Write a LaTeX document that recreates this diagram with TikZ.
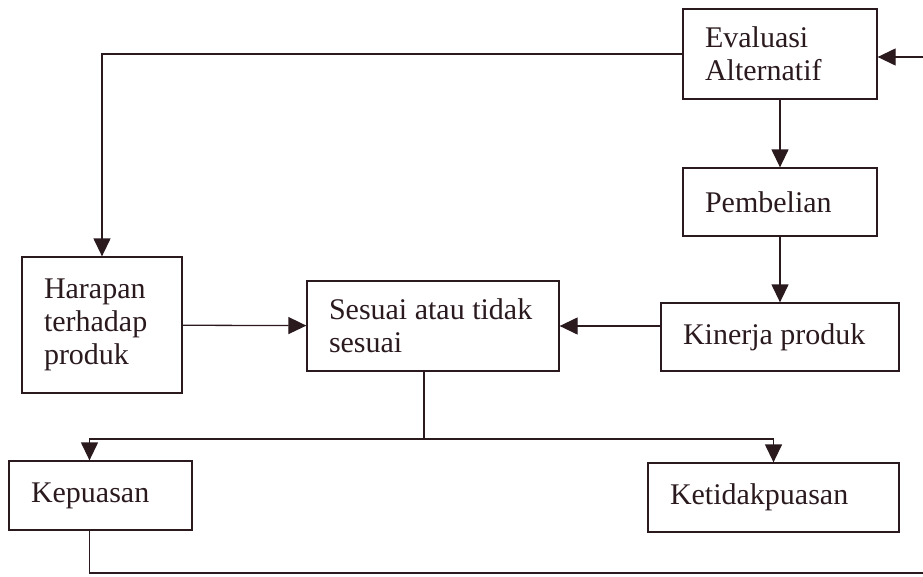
\documentclass[tikz,border=0pt]{standalone}
\usepackage{fontspec}
\setmainfont{Liberation Serif}
\usepackage{xcolor}
\usepackage{tikz}
\usetikzlibrary{arrows.meta,positioning,calc}
\definecolor{ink}{HTML}{2A1A1E}
\tikzset{
  box/.style={draw=ink, line width=1.3pt, text=ink, align=flush left,
              inner xsep=22pt, inner ysep=0pt, font=\fontsize{30}{33}\selectfont},
  flow/.style={-{Triangle[length=18pt,width=17pt]}, line width=1.3pt, draw=ink},
  link/.style={line width=1.3pt, draw=ink}
}
\begin{document}
\begin{tikzpicture}[x=1pt, y=-1pt]
  \useasboundingbox (0,0) rectangle (923,576);
  \node[box, text width=150pt, minimum height=90pt] (eval) at (780,54) {Evaluasi\\Alternatif};
  \node[box, text width=150pt, minimum height=68pt] (beli) at (780,202) {Pembelian};
  \node[box, text width=194pt, minimum height=68pt] (kinerja) at (780,337) {Kinerja produk};
  \node[box, text width=208pt, minimum height=90pt] (sesuai) at (433,326) {Sesuai atau tidak\\sesuai};
  \node[box, text width=116pt, minimum height=136pt] (harapan) at (102,325) {Harapan\\terhadap\\produk};
  \node[box, text width=139pt, minimum height=69pt] (puas) at (100.5,495.5) {Kepuasan};
  \node[box, text width=207pt, minimum height=69pt] (tidakpuas) at (773.5,497.5) {Ketidakpuasan};
  \coordinate (masuk) at (923,57);
  \coordinate (split) at (424,439);
  \coordinate (keluar) at (923,573);
  \draw[flow] (masuk) -- (eval.east |- masuk);
  \draw[flow] (eval.west) -| (harapan.north);
  \draw[flow] (eval) -- (beli);
  \draw[flow] (beli) -- (kinerja);
  \draw[flow] (kinerja.west |- sesuai) -- (sesuai);
  \draw[flow] (harapan) -- (sesuai);
  \draw[link] (sesuai.south -| split) -- (split);
  \draw[flow] (split) -| ([xshift=-11pt]puas.north);
  \draw[flow] (split) -| (tidakpuas.north);
  \draw[link] ([xshift=-11pt]puas.south) |- (keluar);
\end{tikzpicture}
\end{document}
